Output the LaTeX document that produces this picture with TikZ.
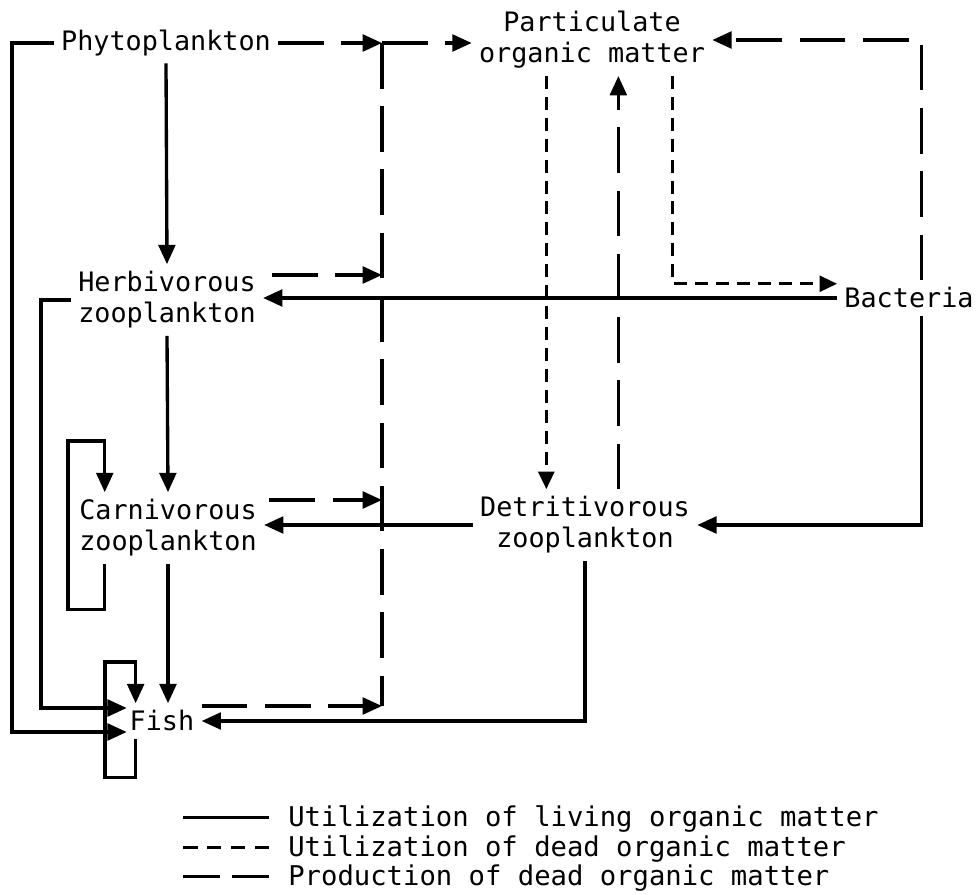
\documentclass[tikz,border=0pt]{standalone}
\usepackage{fontspec}
\usepackage{tikz}
\usetikzlibrary{arrows.meta, positioning}
\newfontfamily\typewriter{DejaVu Sans Mono}

\tikzset{
  taxon/.style={font=\typewriter\fontsize{15.25}{17.6}\selectfont, align=center, inner sep=4pt},
  legtext/.style={font=\typewriter\fontsize{15.5}{18}\selectfont, anchor=base west, inner sep=0pt},
  living/.style={line width=1.9pt, -{Triangle[length=11pt, width=9.5pt]}},
  deaduse/.style={line width=1.9pt, dash pattern=on 7.4pt off 4.5pt, -{Triangle[length=10pt, width=9pt]}},
  deadprod/.style={line width=1.9pt, dash pattern=on 26pt off 10pt, -{Triangle[length=11pt, width=9.5pt]}},
}

\begin{document}
\begin{tikzpicture}[x=0.02cm, y=-0.02cm]
\useasboundingbox (0,0) rectangle (977,895);
% compartments
\node[taxon] (phyto) at (166, 43) {Phytoplankton};
\node[taxon] (pom) at (592, 40) {Particulate\\organic matter};
\node[taxon] (herb) at (167, 300) {Herbivorous\\zooplankton};
\node[taxon] (bact) at (909, 298) {Bacteria};
\node[taxon] (carn) at (168, 528) {Carnivorous\\zooplankton};
\node[taxon] (detr) at (585, 525) {Detritivorous\\zooplankton};
\node[taxon] (fish) at (162, 721) {Fish};

% corners and junctions
\coordinate (coltop) at (382, 43);
\coordinate (colherb) at (382, 275);
\coordinate (colcarn) at (382, 500);
\coordinate (colfish) at (382, 706);
\coordinate (phycorner) at (12, 732);
\coordinate (herbcorner) at (41, 708);
\coordinate (carnloop) at (68, 441);
\coordinate (fishloop) at (105, 662);
\coordinate (pomtodetr) at ([xshift=-26pt]pom.south);
\coordinate (pomfromdetr) at ([xshift=15pt]pom.south);
\coordinate (pomtobact) at ([xshift=46pt]pom.south);

% living organic matter
\draw[living] (phyto.south) -- (herb.north);
\draw[living] (herb.south) -- (carn.north);
\draw[living] (carn.south) -- (carn.south |- fish.north);
\draw[living, shorten >=-2.5pt] (phyto.west) -| (phycorner) -- (phycorner -| fish.west);
\draw[living, shorten >=-2.5pt] (herb.west) -| (herbcorner) -- (herbcorner -| fish.west);
\draw[living] ([xshift=-36pt]carn.south) -- ++(0, 46) -| (carnloop) -| ([xshift=-36pt]carn.north);
\draw[living] ([xshift=-15pt]fish.south) -- ++(0, 39) -| (fishloop) -| ([xshift=-15pt]fish.north);
\draw[living] (bact.west) -- (herb.east |- bact.west);
\draw[living] ([xshift=7pt]bact.south) |- (detr.east);
\draw[living] (detr.west) -- (carn.east |- detr.west);
\draw[living] (detr.south) |- (fish.east);

% dead organic matter used
\draw[deaduse] (pomtodetr) -- (pomtodetr |- detr.north);
\draw[deaduse] (pomtobact) |- ([yshift=-2pt]bact.north west);

% dead organic matter produced
\draw[deadprod, -] (coltop) -- (colfish);
\draw[deadprod] (phyto.east) -- (coltop);
\draw[deadprod] (coltop) -- (coltop -| pom.west);
\draw[deadprod, shorten <=5pt] (colherb -| herb.east) -- (colherb);
\draw[deadprod, shorten <=3pt] (colcarn -| carn.east) -- (colcarn);
\draw[deadprod] (colfish -| fish.east) -- (colfish);
\draw[deadprod] (pomfromdetr |- detr.north) -- (pomfromdetr);
\draw[deadprod] ([xshift=7pt]bact.north) |- (pom.east);

% legend
\node[legtext] (leg1) at (288, 826) {Utilization of living organic matter};
\node[legtext] (leg2) at (288, 856) {Utilization of dead organic matter};
\node[legtext] (leg3) at (288, 885) {Production of dead organic matter};
\draw[living, -] ([xshift=-11pt, yshift=5pt]leg1.base west) -- ++(-86, 0);
\draw[deaduse, -, dash pattern=on 8pt off 5.5pt] ([xshift=-11pt, yshift=5pt]leg2.base west) -- ++(-86, 0);
\draw[deadprod, -, dash pattern=on 21pt off 6.5pt] ([xshift=-11pt, yshift=5pt]leg3.base west) -- ++(-86, 0);
\end{tikzpicture}
\end{document}
